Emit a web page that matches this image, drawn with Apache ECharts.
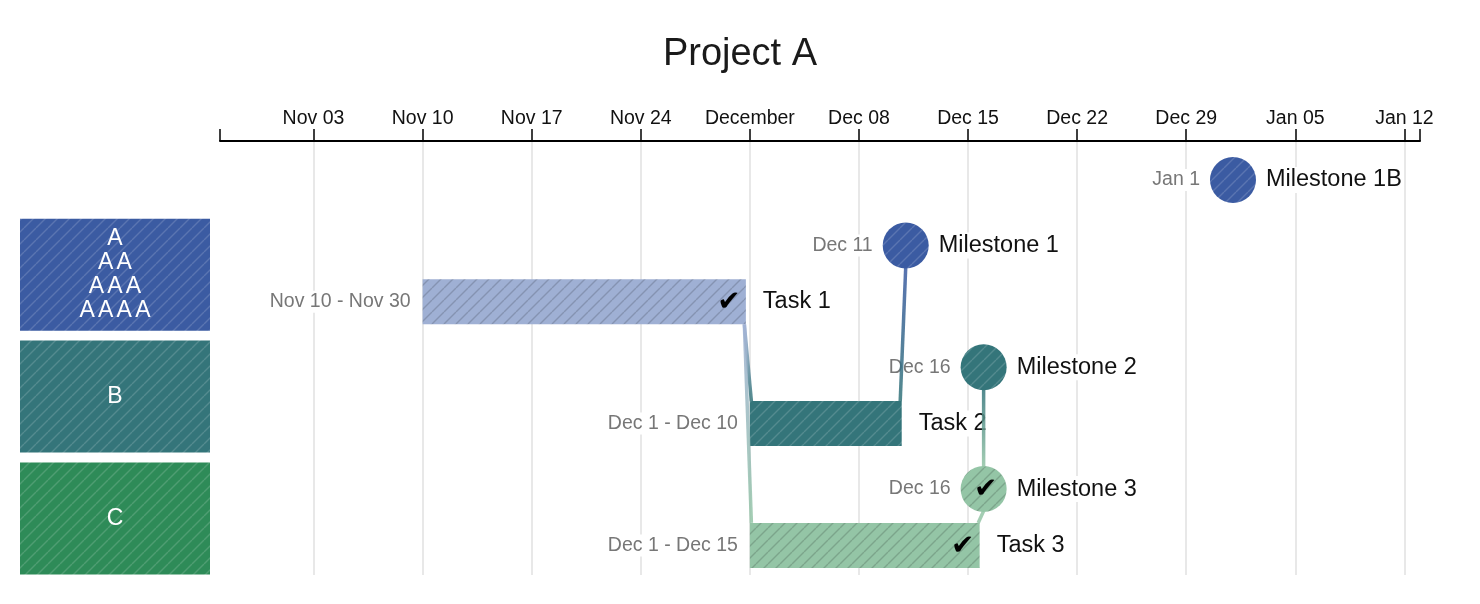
<!DOCTYPE html>
<html><head><meta charset="utf-8">
<script src="https://cdn.jsdelivr.net/npm/echarts@6/dist/echarts.min.js"></script>
<style>html,body{margin:0;padding:0;background:#fff}#chart{width:1480px;height:604px}</style>
</head><body><div id="chart"></div>
<script>
// ---------- data ----------
const chartTitle = 'Project A';
const axisStart = '2019-10-28';
const axisEnd = '2020-01-13';
const tickDates = ['2019-11-03','2019-11-10','2019-11-17','2019-11-24','2019-12-01','2019-12-08','2019-12-15','2019-12-22','2019-12-29','2020-01-05','2020-01-12'];
const tickLabels = ['Nov 03','Nov 10','Nov 17','Nov 24','December','Dec 08','Dec 15','Dec 22','Dec 29','Jan 05','Jan 12'];

const itemNames  = ['Milestone 1B','Milestone 1','Task 1','Milestone 2','Task 2','Milestone 3','Task 3'];
const itemKinds  = ['milestone','milestone','task','milestone','task','milestone','task'];
const itemGroups = ['A','A','A','B','B','C','C'];
const itemStarts = ['2020-01-01','2019-12-11','2019-11-10','2019-12-16','2019-12-01','2019-12-16','2019-12-01'];
const itemEnds   = [null,null,'2019-11-30',null,'2019-12-10',null,'2019-12-15'];
const itemDone   = [false,false,true,false,false,true,true];

const groupNames  = ['A','B','C'];
const groupLabels = [['A','AA','AAA','AAAA'],['B'],['C']];

const linkSources = ['Task 1','Task 1','Task 2','Milestone 2','Task 3'];
const linkTargets = ['Task 2','Task 3','Milestone 1','Milestone 3','Milestone 3'];

// ---------- styling / layout ----------
const FONT = '"Liberation Sans", Arial, Helvetica, sans-serif';
const DAY = 86400000;
const ts = s => Date.parse(s + 'T00:00:00Z');
const MONTHS = ['Jan','Feb','Mar','Apr','May','Jun','Jul','Aug','Sep','Oct','Nov','Dec'];
const fmtDay = s => { const d = new Date(ts(s)); return MONTHS[d.getUTCMonth()] + ' ' + d.getUTCDate(); };
const palette = {
  A: {dark: '#3b5ba2', light: '#9fb0d4'},
  B: {dark: '#34757a', light: '#93bcbc'},
  C: {dark: '#2e8b58', light: '#94c5a6'}
};
const tickTs = tickDates.map(ts);
const xMin = ts(axisStart), xMax = ts(axisEnd);

// vertical lane layout (in grid pixels) derived from the sequence of item kinds
const rowY = [];
itemKinds.forEach((k, i) => {
  if (i === 0) rowY.push(39);
  else rowY.push(rowY[i - 1] + (k === 'milestone' ? 65.5 : 56.3));
});

const patternCache = {};
function hatch(bg, line) {
  const key = bg + line;
  if (patternCache[key]) return patternCache[key];
  const s = 12, c = document.createElement('canvas');
  c.width = c.height = s;
  const g = c.getContext('2d');
  g.fillStyle = bg; g.fillRect(0, 0, s, s);
  g.strokeStyle = line; g.lineWidth = 1.4;
  for (const k of [-s, 0, s]) { g.beginPath(); g.moveTo(k, s); g.lineTo(k + s, 0); g.stroke(); }
  return (patternCache[key] = {image: c, repeat: 'repeat'});
}
function itemColor(i) { return itemDone[i] ? palette[itemGroups[i]].light : palette[itemGroups[i]].dark; }
function itemFill(i) { return hatch(itemColor(i), itemDone[i] ? 'rgba(0,0,0,0.16)' : 'rgba(255,255,255,0.16)'); }
function rgba(hex, a) {
  const n = parseInt(hex.slice(1), 16);
  return 'rgba(' + (n >> 16) + ',' + ((n >> 8) & 255) + ',' + (n & 255) + ',' + a + ')';
}
function txt(x, y, text, opt) {
  return {type: 'text', x, y, z2: 10, style: Object.assign({
    text, fontSize: 23.5, fontFamily: FONT, fill: '#111', align: 'left', verticalAlign: 'middle',
    backgroundColor: '#fff', padding: [1, 2]
  }, opt || {})};
}

function renderItem(params, api) {
  const i = params.dataIndex;
  const y = api.coord([xMin, api.value(2)])[1];
  const children = [];
  const dateText = itemEnds[i] ? fmtDay(itemStarts[i]) + ' - ' + fmtDay(itemEnds[i]) : fmtDay(itemStarts[i]);
  const dateStyle = {fill: '#777', fontSize: 19.5, align: 'right'};
  const check = (x) => ({type: 'text', x, y: y + 1, z2: 11, style: {text: '\u2714', fontSize: 28, fontFamily: '"DejaVu Sans"', fill: '#000', align: 'center', verticalAlign: 'middle'}});
  if (itemKinds[i] === 'task') {
    const x0 = api.coord([api.value(0), 0])[0];
    const xe = api.coord([api.value(1) + DAY, 0])[0];
    const x1 = xe - 4;
    children.push({type: 'rect', shape: {x: x0, y: y - 22.5, width: x1 - x0, height: 45}, style: {fill: itemFill(i)}});
    if (itemDone[i]) children.push(check(x1 - 17));
    children.push(txt(xe + 11, y, itemNames[i]));
    children.push(txt(x0 - 10, y, dateText, dateStyle));
  } else {
    const cx = api.coord([api.value(0), 0])[0];
    children.push({type: 'circle', shape: {cx, cy: y, r: 23}, style: {fill: itemFill(i)}});
    if (itemDone[i]) children.push(check(cx + 2));
    children.push(txt(cx + 31, y, itemNames[i]));
    children.push(txt(cx - 31, y, dateText, dateStyle));
  }
  return {type: 'group', children};
}

function renderGroup(params, api) {
  const gi = params.dataIndex;
  const yTask = api.coord([xMin, api.value(1)])[1];
  const top = yTask - 83, h = 112;
  const gridLeft = api.coord([xMin, 0])[0];
  const lines = groupLabels[gi];
  const text = lines.map(l => l.split('').map(ch => '{l|' + ch + '}').join('')).join('\n');
  return {type: 'group', children: [
    {type: 'rect', shape: {x: gridLeft - 200, y: top, width: 190, height: h},
      style: {fill: hatch(palette[groupNames[gi]].dark, 'rgba(255,255,255,0.16)')}},
    {type: 'text', x: gridLeft - 105, y: top + h / 2, style: {
      text, align: 'center', verticalAlign: 'middle', fill: '#fff', fontSize: 23, fontFamily: FONT, lineHeight: 24,
      rich: {l: {fill: '#fff', fontSize: 23, fontFamily: FONT, padding: [0, 1.6], lineHeight: 24}}
    }}
  ]};
}

function renderLink(params, api) {
  const a = itemNames.indexOf(linkSources[params.dataIndex]);
  const b = itemNames.indexOf(linkTargets[params.dataIndex]);
  const pt = (i, asSource, down) => {
    const y = api.coord([xMin, rowY[i]])[1];
    if (itemKinds[i] === 'task') {
      const x = asSource ? api.coord([ts(itemEnds[i]) + DAY, 0])[0] - 5.5 : api.coord([ts(itemStarts[i]), 0])[0] + 1.5;
      return [x, (asSource === down) ? y + 22.5 : y - 22.5];
    }
    const cx = api.coord([ts(itemStarts[i]), 0])[0];
    return [cx, (asSource === down) ? y + 22 : y - 22];
  };
  const down = rowY[b] > rowY[a];
  const p1 = pt(a, true, down), p2 = pt(b, false, down);
  const grad = new echarts.graphic.LinearGradient(p1[0], p1[1], p2[0], p2[1], [
    {offset: 0, color: rgba(itemColor(a), 0.85)}, {offset: 1, color: rgba(itemColor(b), 0.85)}
  ], true);
  return {type: 'line', shape: {x1: p1[0], y1: p1[1], x2: p2[0], y2: p2[1]}, style: {stroke: grad, lineWidth: 3.5}};
}

const chart = echarts.init(document.getElementById('chart'), null, {renderer: 'canvas'});
chart.setOption({
  animation: false,
  backgroundColor: '#fff',
  title: {text: chartTitle, left: 'center', top: 31, textStyle: {fontSize: 38, fontWeight: 'normal', color: '#1a1a1a', fontFamily: FONT}},
  grid: {left: 220, right: 60, top: 141, bottom: 29, containLabel: false},
  xAxis: {
    type: 'value', position: 'top', min: xMin, max: xMax, scale: true,
    axisLine: {show: true, lineStyle: {color: '#000', width: 2}},
    axisTick: {show: true, inside: false, length: 12, lineStyle: {color: '#000', width: 1.5}, customValues: [xMin].concat(tickTs, [xMax])},
    axisLabel: {customValues: tickTs, formatter: v => { const k = tickTs.indexOf(v); return k >= 0 ? tickLabels[k] : ''; },
      color: '#111', fontSize: 19.5, fontFamily: FONT, margin: 12, hideOverlap: false},
    splitLine: {show: false}
  },
  yAxis: {type: 'value', min: 0, max: 434, inverse: true, show: false, splitLine: {show: false}},
  series: [
    {type: 'line', data: [], silent: true, z: 0,
      markLine: {silent: true, z: 0, symbol: ['none', 'none'], label: {show: false},
        lineStyle: {color: '#e8e8e8', width: 2, type: 'solid'},
        data: tickTs.map(t => ({xAxis: t}))}},
    {type: 'custom', z: 3, renderItem: renderGroup, silent: true,
      data: groupNames.map(g => [xMin, rowY[itemGroups.lastIndexOf(g)]]),
      encode: {x: 0, y: 1}},
    {type: 'custom', z: 4, renderItem: renderItem, silent: true,
      data: itemStarts.map((s, i) => [ts(s), itemEnds[i] ? ts(itemEnds[i]) : ts(s), rowY[i]]),
      encode: {x: [0, 1], y: 2}},
    {type: 'custom', z: 6, renderItem: renderLink, silent: true,
      data: linkSources.map((s, k) => [ts(itemStarts[itemNames.indexOf(s)]), rowY[itemNames.indexOf(s)]]),
      encode: {x: 0, y: 1}}
  ]
});
</script></body></html>
